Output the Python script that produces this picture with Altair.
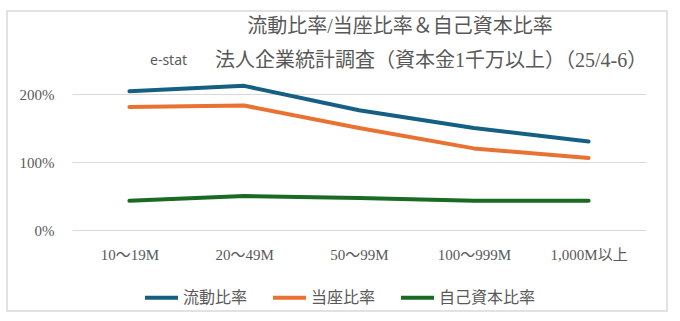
import altair as alt
import pandas as pd

categories = ["10～19M", "20～49M", "50～99M", "100～999M", "1,000M以上"]
series_names = ["流動比率", "当座比率", "自己資本比率"]
current_ratio = [2.04, 2.12, 1.76, 1.50, 1.30]
quick_ratio = [1.81, 1.83, 1.50, 1.20, 1.06]
equity_ratio = [0.43, 0.50, 0.47, 0.43, 0.43]
colors = ["#156082", "#E97132", "#196B24"]
y_ticks = [0, 1, 2]
title_line1 = "流動比率/当座比率＆自己資本比率"
title_source = "e-stat"
title_line2 = "法人企業統計調査（資本金1千万以上）（25/4-6）"

rows = []
for name, vals in zip(series_names, [current_ratio, quick_ratio, equity_ratio]):
    for c, v in zip(categories, vals):
        rows.append({"区分": c, "系列": name, "値": v})
df = pd.DataFrame(rows)

serif = "Liberation Serif, Noto Sans CJK JP"
gray = "#595959"

lines = alt.Chart(df).mark_line(strokeWidth=4, strokeCap="round", strokeJoin="round").encode(
    x=alt.X("区分:N", sort=categories, title=None,
            axis=alt.Axis(labelAngle=0, labelFont=serif, labelFontSize=15, labelColor=gray,
                          labelPadding=17, ticks=False, domain=False, grid=False)),
    y=alt.Y("値:Q", title=None, scale=alt.Scale(domain=[0, 150 / 68], nice=False),
            axis=alt.Axis(values=y_ticks, format=".0%", labelFont=serif, labelFontSize=15,
                          labelColor=gray, labelPadding=18, ticks=False, domain=False,
                          grid=True, gridColor="#d9d9d9", gridWidth=1)),
    color=alt.Color("系列:N", sort=series_names,
                    scale=alt.Scale(domain=series_names, range=colors),
                    legend=alt.Legend(title=None, orient="none", direction="horizontal",
                                      legendX=71, legendY=199, symbolType="stroke",
                                      symbolSize=1089, symbolStrokeWidth=4,
                                      labelFont="Noto Sans CJK JP", labelFontSize=16,
                                      labelColor=gray, labelOffset=3, columnPadding=17)),
)

border = alt.Chart(pd.DataFrame({"a": [0]})).mark_rect(
    fill=None, stroke="#d9d9d9", strokeWidth=1.5, clip=False
).encode(x=alt.value(-65), x2=alt.value(595), y=alt.value(-69), y2=alt.value(231))

tdf = pd.DataFrame({"t": [title_line1]})
t1 = alt.Chart(tdf).mark_text(font=serif, fontSize=20, color=gray, align="center",
                              baseline="middle").encode(
    text="t:N", x=alt.value(328), y=alt.value(-53))
sdf = pd.DataFrame({"t": [title_source]})
t2 = alt.Chart(sdf).mark_text(font="Noto Sans", fontSize=14, color=gray, align="left",
                              baseline="middle").encode(
    text="t:N", x=alt.value(78), y=alt.value(-19))
ldf = pd.DataFrame({"t": [title_line2]})
t3 = alt.Chart(ldf).mark_text(font=serif, fontSize=20, color=gray, align="left",
                              baseline="middle").encode(
    text="t:N", x=alt.value(143), y=alt.value(-19))

chart = alt.layer(border, lines, t1, t2, t3).properties(
    width=574, height=150,
    padding={"left": 72, "top": 80, "right": 34, "bottom": 91},
    autosize=alt.AutoSizeParams(type="none"),
    background="white",
).configure_view(stroke=None)

chart.save("out.html", embed_options={"renderer": "svg", "actions": False})
